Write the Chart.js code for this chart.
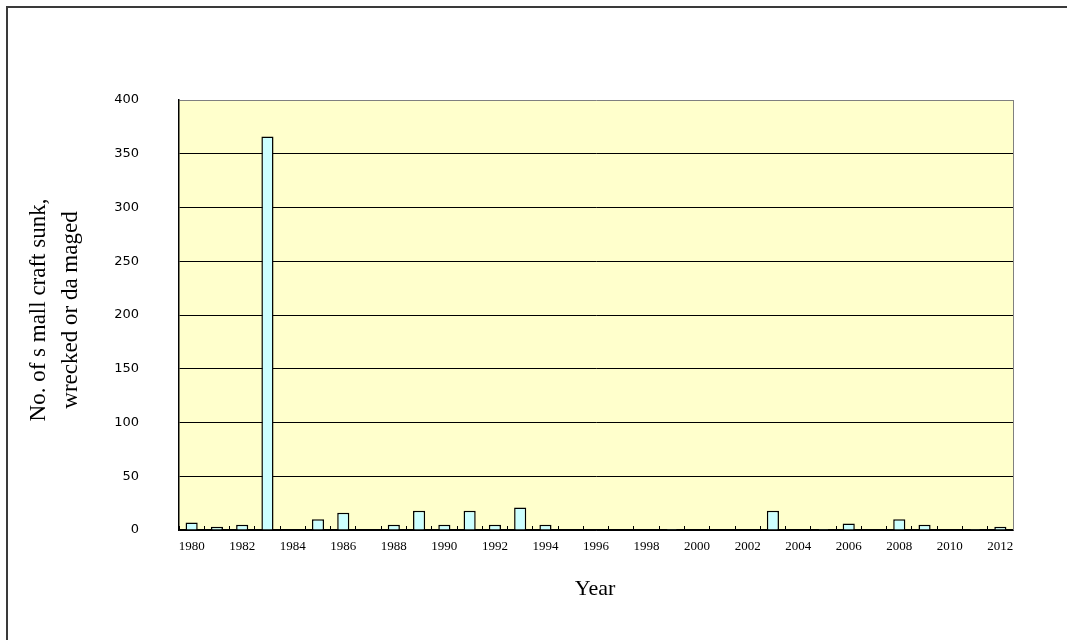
<!DOCTYPE html>
<html>
<head>
<meta charset="utf-8">
<script src="https://cdn.jsdelivr.net/npm/chart.js@4/dist/chart.umd.min.js"></script>
<style>
  html, body { margin: 0; padding: 0; background: #ffffff; }
  #wrap { width: 1067px; height: 640px; position: relative; }
</style>
</head>
<body>
<div id="wrap"><canvas id="c" width="1067" height="640"></canvas></div>
<script>
// Years on the category axis
const years = [
  '1980','1981','1982','1983','1984','1985','1986','1987','1988','1989',
  '1990','1991','1992','1993','1994','1995','1996','1997','1998','1999',
  '2000','2001','2002','2003','2004','2005','2006','2007','2008','2009',
  '2010','2011','2012'
];

// Number of small craft sunk, wrecked or damaged in each year
const craftCounts = [
  7, 3, 5, 366, 0, 10, 16, 0, 5, 18,
  5, 18, 5, 21, 5, 0, 0, 0, 0, 1,
  0, 0, 0, 18, 0, 1, 6, 0, 10, 5,
  0, 1, 3
];

// Value-axis ticks
const yTicks = [0, 50, 100, 150, 200, 250, 300, 350, 400];

const yTitleLines = ['No. of s mall craft sunk,', 'wrecked or da maged'];
const xTitle = 'Year';

// Plot background, outer frame, right edge and axis titles
const decorations = {
  id: 'decorations',
  beforeDraw(chart) {
    const { ctx, chartArea: a } = chart;
    ctx.save();
    ctx.fillStyle = '#ffffcc';
    ctx.fillRect(a.left, a.top, a.right - a.left, a.bottom - a.top);
    ctx.restore();
  },
  afterDraw(chart) {
    const { ctx, chartArea: a } = chart;
    ctx.save();
    // right edge of the plot area
    ctx.strokeStyle = '#808080';
    ctx.lineWidth = 1;
    ctx.beginPath();
    ctx.moveTo(Math.round(a.right) + 0.5, a.top);
    ctx.lineTo(Math.round(a.right) + 0.5, a.bottom);
    ctx.stroke();

    // outer frame
    ctx.strokeStyle = '#3a3a3a';
    ctx.lineWidth = 2;
    ctx.strokeRect(7, 7, 1100, 700);

    // axis titles
    ctx.fillStyle = '#000000';
    ctx.textAlign = 'center';
    ctx.textBaseline = 'middle';
    ctx.font = '22px "Liberation Serif", "Times New Roman", serif';
    ctx.fillText(xTitle, 595, 589);

    ctx.font = '23px "Liberation Serif", "Times New Roman", serif';
    ctx.translate(39, 310);
    ctx.rotate(-Math.PI / 2);
    ctx.fillText(yTitleLines[0], 0, 0);
    ctx.fillText(yTitleLines[1], 0, 32);
    ctx.restore();
  }
};

new Chart(document.getElementById('c'), {
  type: 'bar',
  data: {
    labels: years,
    datasets: [{
      data: craftCounts,
      backgroundColor: '#ccffff',
      borderColor: '#000000',
      borderWidth: 1.5,
      categoryPercentage: 1.0,
      barPercentage: 0.48
    }]
  },
  options: {
    responsive: false,
    animation: false,
    devicePixelRatio: 1,
    layout: { padding: { left: 0, top: 100, right: 54, bottom: 0 } },
    plugins: {
      legend: { display: false },
      tooltip: { enabled: false }
    },
    scales: {
      x: {
        offset: true,
        grid: {
          offset: true,
          drawOnChartArea: false,
          drawTicks: true,
          tickLength: -4,
          color: '#000000',
          lineWidth: 1
        },
        border: { display: true, color: '#000000', width: 1.5 },
        ticks: {
          autoSkip: false,
          maxRotation: 0,
          minRotation: 0,
          padding: 13,
          color: '#000000',
          font: { family: '"Liberation Serif", "Times New Roman", serif', size: 13 },
          callback: (v, i) => (i % 2 === 0 ? years[i] : '')
        },
        afterFit(scale) { scale.height = 110; }
      },
      y: {
        min: 0,
        max: 400,
        afterBuildTicks(scale) { scale.ticks = yTicks.map(v => ({ value: v })); },
        grid: {
          drawTicks: false,
          color: ctx => (ctx.tick && ctx.tick.value === 400 ? '#808080' : '#000000'),
          lineWidth: 1
        },
        border: { display: true, color: '#000000', width: 1.5 },
        ticks: {
          padding: 40,
          color: '#000000',
          font: { family: '"DejaVu Sans", sans-serif', size: 13 }
        },
        afterFit(scale) { scale.width = 179; }
      }
    }
  },
  plugins: [decorations]
});
</script>
</body>
</html>
